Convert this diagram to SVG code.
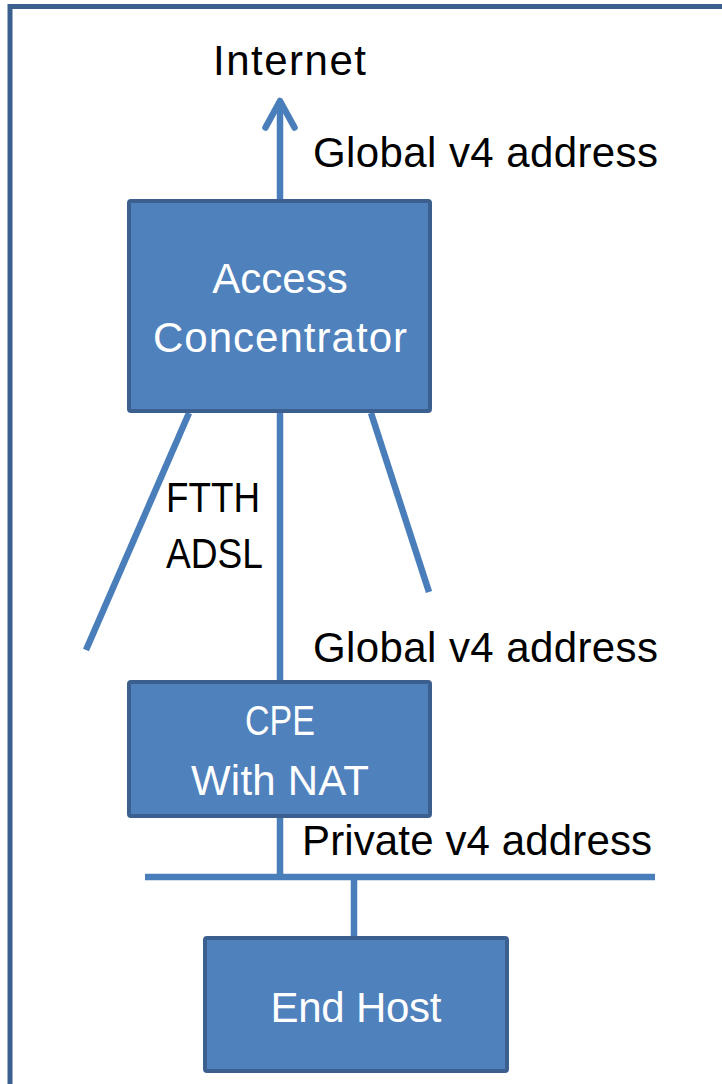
<svg xmlns="http://www.w3.org/2000/svg" width="722" height="1084" viewBox="0 0 722 1084">
<style>
.box{fill:#4f81bd;stroke:#3b5f8e;stroke-width:4}
.ln{stroke:#4a7ebb;stroke-width:6.5;fill:none}
.lbl{font-family:"Liberation Sans",Arial,sans-serif;font-size:42px;fill:#000}
.bt{font-family:"Liberation Sans",Arial,sans-serif;font-size:42px;fill:#fff;text-anchor:middle}
</style>
<rect width="722" height="1084" fill="#fff"/>
<rect id="frame" x="10" y="6.5" width="760" height="1120" fill="none" stroke="#3b5f8e" stroke-width="5"/>
<g id="connectors">
<line class="ln" x1="280" y1="201" x2="280" y2="102"/>
<polyline class="ln" points="265.5,127.5 280,101 294.5,127.5" stroke-linecap="round" stroke-linejoin="round"/>
<line class="ln" x1="189" y1="413" x2="86" y2="650"/>
<line class="ln" x1="280" y1="413" x2="280" y2="682"/>
<line class="ln" x1="371" y1="413" x2="429" y2="592"/>
<line class="ln" x1="280" y1="816" x2="280" y2="877"/>
<line class="ln" x1="145" y1="877" x2="655" y2="877"/>
<line class="ln" x1="354" y1="877" x2="354" y2="938"/>
</g>
<g id="labels">
<text class="lbl" x="213" y="75" textLength="153">Internet</text>
<text class="lbl" x="313" y="167" textLength="345">Global v4 address</text>
<text class="lbl" x="166" y="512" textLength="94" lengthAdjust="spacingAndGlyphs">FTTH</text>
<text class="lbl" x="166" y="568" textLength="97" lengthAdjust="spacingAndGlyphs">ADSL</text>
<text class="lbl" x="313" y="662" textLength="345">Global v4 address</text>
<text class="lbl" x="302" y="855" textLength="350">Private v4 address</text>
</g>
<g id="access-concentrator">
<rect class="box" x="129" y="201" width="301" height="210" rx="2"/>
<text class="bt" x="280" y="293">Access</text>
<text class="bt" x="280" y="352" textLength="254">Concentrator</text>
</g>
<g id="cpe">
<rect class="box" x="129" y="682" width="301" height="134" rx="2"/>
<text class="bt" x="280" y="735" textLength="70" lengthAdjust="spacingAndGlyphs">CPE</text>
<text class="bt" x="280" y="795" textLength="178">With NAT</text>
</g>
<g id="end-host">
<rect class="box" x="205" y="938" width="302" height="133" rx="2"/>
<text class="bt" x="356" y="1022" textLength="171">End Host</text>
</g>
</svg>
